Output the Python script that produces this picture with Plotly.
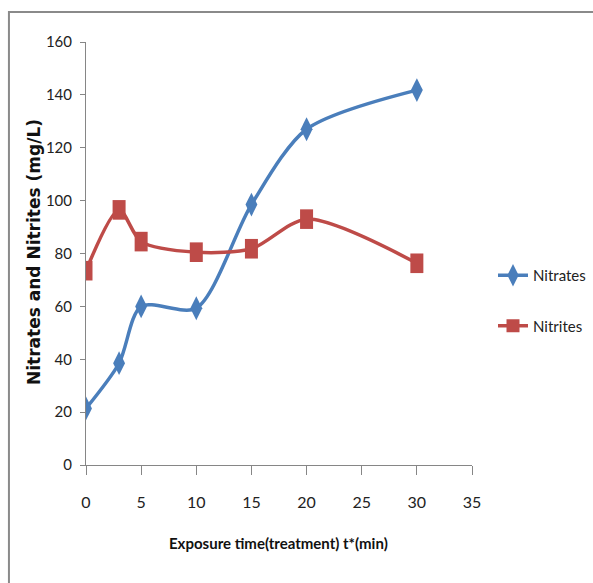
import plotly.graph_objects as go

time_min = [0, 3, 5, 10, 15, 20, 30]
nitrates = [21.4, 38.5, 60, 59.3, 98.5, 127, 141.8]
nitrites = [73.5, 96.5, 84.5, 80.5, 81.8, 93, 76.3]

x_ticks = [0, 5, 10, 15, 20, 25, 30, 35]
y_ticks = [0, 20, 40, 60, 80, 100, 120, 140, 160]

x_title = "Exposure time(treatment) t*(min)"
y_title = "Nitrates and Nitrites (mg/L)"

FONT = "Lato, Roboto, sans-serif"
BLUE = "#4A7EBB"
RED = "#BE4B48"
AXIS = "#868686"

fig = go.Figure()
fig.add_trace(go.Scatter(
    x=time_min, y=nitrates, name="Nitrates", mode="lines+markers",
    line=dict(color=BLUE, width=3.5, shape="spline", smoothing=0.8),
    marker=dict(symbol="diamond-tall", size=17, color=BLUE),
    legendgroup="a",
))
fig.add_trace(go.Scatter(
    x=time_min, y=nitrites, name="Nitrites", mode="lines+markers",
    line=dict(color=RED, width=3.5, shape="spline", smoothing=0.8),
    marker=dict(symbol="line-ns", size=14, color=RED,
                line=dict(color=RED, width=13)),
    legendgroup="b", showlegend=False,
))
# legend entry for Nitrites (square marker on a line)
fig.add_trace(go.Scatter(
    x=[None], y=[None], name="Nitrites", mode="lines+markers",
    line=dict(color=RED, width=3.5),
    marker=dict(symbol="square", size=13, color=RED),
    legendgroup="b", hoverinfo="skip",
))

fig.update_layout(
    width=593, height=583,
    margin=dict(l=86, r=121, t=42, b=118, autoexpand=False),
    paper_bgcolor="white", plot_bgcolor="white",
    showlegend=True,
    legend=dict(
        xref="container", yref="container",
        x=493 / 593, y=1 - 259 / 583, xanchor="left", yanchor="top",
        font=dict(family=FONT, size=15, color="#222"),
        tracegroupgap=28, traceorder="grouped",
        bgcolor="rgba(0,0,0,0)",
    ),
    xaxis=dict(
        range=[0, 35], tickvals=x_ticks, ticktext=[str(v) for v in x_ticks],
        showgrid=False, zeroline=False, showline=True, linecolor=AXIS, linewidth=1,
        ticks="outside", ticklen=9, tickcolor=AXIS,
        ticklabelstandoff=14,
        tickfont=dict(family=FONT, size=16, color="#222"),
    ),
    yaxis=dict(
        range=[0, 160], tickvals=y_ticks, ticktext=[str(v) for v in y_ticks],
        showgrid=False, zeroline=False, showline=True, linecolor=AXIS, linewidth=1,
        ticks="outside", ticklen=5, tickcolor=AXIS,
        ticklabelstandoff=5,
        tickfont=dict(family=FONT, size=15, color="#222"),
    ),
    annotations=[
        dict(text="<b>" + x_title + "</b>", xref="paper", yref="paper",
             x=(278 - 86) / 385.7, y=(465 - 543) / 423, xanchor="center", yanchor="middle",
             showarrow=False, font=dict(family=FONT, size=15, color="#111")),
        dict(text="<b>" + y_title + "</b>", xref="paper", yref="paper",
             x=(34 - 86) / 385.7, y=(465 - 252) / 423, xanchor="center", yanchor="middle",
             textangle=-90, showarrow=False,
             font=dict(family="DejaVu Sans, Verdana, sans-serif", size=17, color="#111")),
    ],
    shapes=[dict(
        type="rect", xref="paper", yref="paper",
        x0=(9 - 86) / 385.7, x1=2.0, y0=-1.0, y1=(465 - 12) / 423,
        line=dict(color="#8a8a8a", width=2), fillcolor="rgba(0,0,0,0)", layer="below",
    )],
)

fig.write_html("out.html")
